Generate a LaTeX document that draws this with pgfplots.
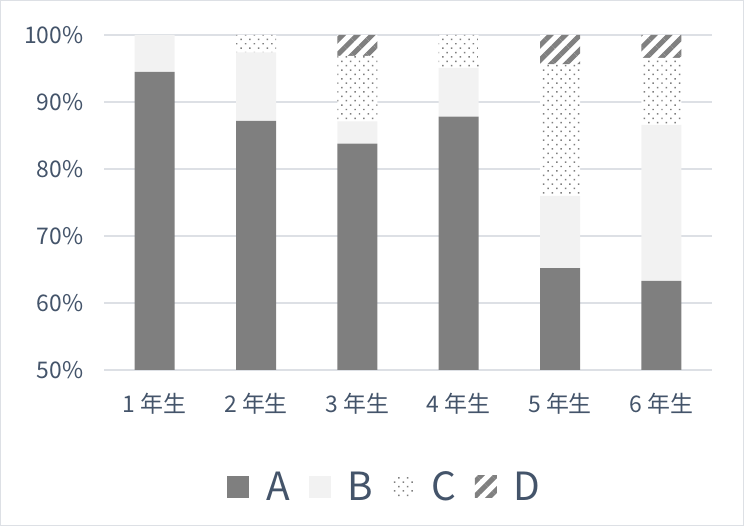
\documentclass[border=0pt]{standalone}
\usepackage{pgfplots}
\pgfplotsset{compat=1.18}
\usepackage{fontspec}
\setmainfont{Noto Sans CJK JP}
\usetikzlibrary{patterns.meta}

\definecolor{cA}{HTML}{7F7F7F}
\definecolor{cB}{HTML}{F2F2F2}
\definecolor{cC}{HTML}{7F7F7F}
\definecolor{cD}{HTML}{808080}
\definecolor{txt}{HTML}{44546A}
\definecolor{grd}{HTML}{DDE0E5}

\begin{document}
\begin{tikzpicture}[x=1bp,y=1bp]
\useasboundingbox (0,0) rectangle (744,526);
\draw[color=grd, line width=1bp] (0.5,0.5) rectangle (743.5,525.5);
\begin{axis}[
    at={(104bp,156bp)}, anchor=south west,
    scale only axis,
    width=608bp, height=335bp,
    ybar stacked,
    bar width=40bp,
    xmin=-0.5, xmax=5.5,
    ymin=50, ymax=100,
    ytick={50,60,70,80,90,100},
    yticklabel={\pgfmathprintnumber{\tick}\%},
    xtick={0,1,2,3,4,5},
    xticklabels={1 年生,2 年生,3 年生,4 年生,5 年生,6 年生},
    /pgf/number format/assume math mode=true,
    axis line style={draw=none},
    major tick length=0pt,
    ymajorgrids=true,
    grid style={color=grd, line width=1.2bp},
    tick label style={color=txt, font=\fontsize{23}{26}\selectfont},
    yticklabel style={xshift=-17bp},
    xticklabel style={yshift=-20bp},
    legend columns=4,
    legend style={at={(0.462,-0.349)}, anchor=center, draw=none,
        font=\fontsize{39}{41}\selectfont, text=txt,
        /tikz/every odd column/.append style={column sep=15bp},
        /tikz/every even column/.append style={column sep=17bp}},
    legend image code/.code={\fill[#1] (0bp,-11bp) rectangle (22bp,11bp);},
]
\addplot[fill=cA, draw=none] coordinates {(0,94.5) (1,87.2) (2,83.8) (3,87.8) (4,65.2) (5,63.3)};
\addlegendentry{A}
\addplot[fill=cB, draw=none] coordinates {(0,5.5) (1,10.2) (2,3.3) (3,7.3) (4,10.8) (5,23.3)};
\addlegendentry{B}
\addplot[fill=white, draw=none,
    postaction={pattern={Dots[distance=6.2bp, angle=45, radius=1.05bp]}, pattern color=cC}]
    coordinates {(0,0) (1,2.6) (2,9.8) (3,4.9) (4,19.6) (5,10.0)};
\addlegendentry{C}
\addplot[fill=white, draw=none,
    postaction={pattern={Lines[angle=45, distance=10.5bp, line width=5bp]}, pattern color=cD}]
    coordinates {(0,0) (1,0) (2,3.1) (3,0) (4,4.4) (5,3.4)};
\addlegendentry{D}
\end{axis}
\end{tikzpicture}
\end{document}
